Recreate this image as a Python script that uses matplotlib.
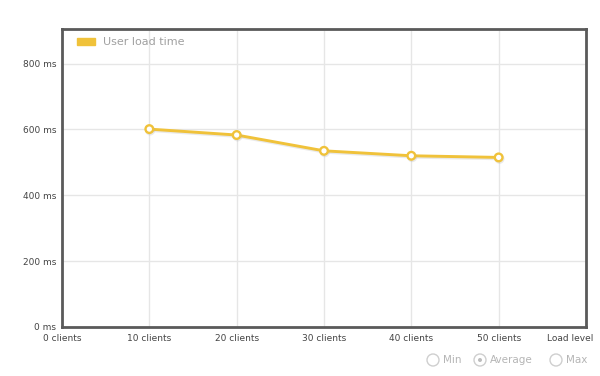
import matplotlib.pyplot as plt
from matplotlib.patches import Circle, Rectangle
import matplotlib.patheffects as pe

clients = [10, 20, 30, 40, 50]
load_ms = [601, 583, 535, 520, 515]
x_ticks = [0, 10, 20, 30, 40, 50]
x_labels = ['0 clients', '10 clients', '20 clients', '30 clients', '40 clients', '50 clients']
y_ticks = [0, 200, 400, 600, 800]
y_labels = ['0 ms', '200 ms', '400 ms', '600 ms', '800 ms']
series_name = 'User load time'
options = ['Min', 'Average', 'Max']

yellow = '#f0c23a'
tick_col = '#444444'

fig = plt.figure(figsize=(6, 3.76), dpi=100)
ax = fig.add_axes([62 / 600, 1 - 327 / 376, 524 / 600, 298 / 376])

ax.set_xlim(0, 60)
ax.set_ylim(0, 905)
ax.set_xticks(x_ticks)
ax.set_xticklabels(x_labels)
ax.set_yticks(y_ticks)
ax.set_yticklabels(y_labels)
ax.tick_params(length=0, labelsize=6.5, labelcolor=tick_col, pad=4)
ax.tick_params(axis='x', pad=5)
ax.grid(True, color='#e6e6e6', lw=1)
ax.set_axisbelow(True)
for s in ax.spines.values():
    s.set_color('#5a5a5a')
    s.set_linewidth(2)

ax.plot(clients, load_ms, color=yellow, lw=2.1, marker='o', ms=5.5,
        mfc='white', mec=yellow, mew=1.7, zorder=3,
        path_effects=[pe.SimpleLineShadow(offset=(0.6, -1.0), shadow_color='#aaaaaa', alpha=0.25),
                      pe.Normal()])

ax.annotate('Load level', xy=(60, 0), xycoords=('data', 'axes fraction'),
            xytext=(5, -5), textcoords='offset points', ha='right', va='top',
            fontsize=6.5, color=tick_col)

# legend
fig.patches.append(Rectangle((77 / 600, 1 - 45 / 376), 18 / 600, 7 / 376,
                             transform=fig.transFigure, color=yellow))
fig.text(103 / 600, 1 - 42 / 376, series_name, fontsize=8, color='#a0a0a0', va='center')

# radio buttons
radio_x = [433, 480, 556]
for xp, lab in zip(radio_x, options):
    yc = 1 - 360 / 376
    fig.patches.append(Circle((xp, 376 - 360), 6, transform=None, fc='white',
                              ec='#cfcfcf', lw=1))
    if lab == 'Average':
        fig.patches.append(Circle((xp, 376 - 360), 2, transform=None, fc='#bdbdbd', ec='none'))
    fig.text((xp + 10) / 600, yc, lab, fontsize=7.5, color='#b5b5b5', va='center')

fig.savefig('out.png', dpi=100)
